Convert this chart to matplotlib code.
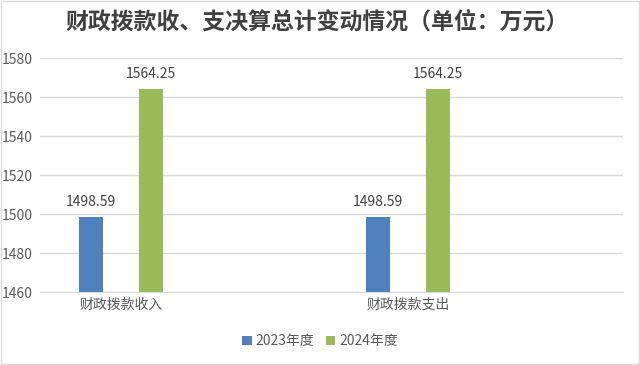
import matplotlib
matplotlib.use('Agg')
import matplotlib.pyplot as plt
from matplotlib.patches import Rectangle

plt.rcParams['font.family'] = ['Noto Sans CJK SC', 'DejaVu Sans']

# Daten
categories = ['财政拨款收入', '财政拨款支出']
series_names = ['2023年度', '2024年度']
values_2023 = [1498.59, 1498.59]
values_2024 = [1564.25, 1564.25]
colors = ['#4F81BD', '#9BBB59']

fig = plt.figure(figsize=(6.4, 3.65), dpi=100)
ax = fig.add_axes([0.0625, 0.2, 0.9105, 0.641])

x = [0, 1]
w = 0.084
off = 0.1045
b1 = ax.bar([i - off for i in x], [v - 1460 for v in values_2023], w, bottom=1460,
            color=colors[0], label=series_names[0], zorder=3)
b2 = ax.bar([i + off for i in x], [v - 1460 for v in values_2024], w, bottom=1460,
            color=colors[1], label=series_names[1], zorder=3)

# Datenbeschriftungen
for bars, vals in ((b1, values_2023), (b2, values_2024)):
    for rect, v in zip(bars, vals):
        ax.text(rect.get_x() + rect.get_width() / 2, v + 4, f'{v:.2f}',
                ha='center', va='bottom', fontsize=10, color='#404040')

ax.set_xlim(-0.282, 1.749)
ax.set_ylim(1460, 1580)
ax.set_yticks(range(1460, 1581, 20))
ax.set_xticks(x)
ax.set_xticklabels(categories)
ax.tick_params(axis='both', length=0, labelsize=10, colors='#595959')
ax.tick_params(axis='x', pad=4)
ax.tick_params(axis='y', pad=5)
ax.grid(axis='y', color='#D9D9D9', linewidth=1, zorder=0)
for s in ['left', 'right', 'top']:
    ax.spines[s].set_visible(False)
ax.spines['bottom'].set_color('#D9D9D9')

fig.text(0.495, 0.94, '财政拨款收、支决算总计变动情况（单位：万元）',
         ha='center', va='center', fontsize=16.5, fontweight='bold', color='#404040')

fig.legend(loc='center', bbox_to_anchor=(0.5, 0.065), ncol=2, frameon=False,
           fontsize=10, handlelength=0.7, handleheight=0.7, handletextpad=0.3,
           columnspacing=0.8, labelcolor='#595959')

# Rahmen um die Grafik
fig.patches.append(Rectangle((0.001, 0.002), 0.997, 0.995, transform=fig.transFigure,
                             fill=False, edgecolor='#D9D9D9', linewidth=1))

plt.savefig('out.png', dpi=100)
